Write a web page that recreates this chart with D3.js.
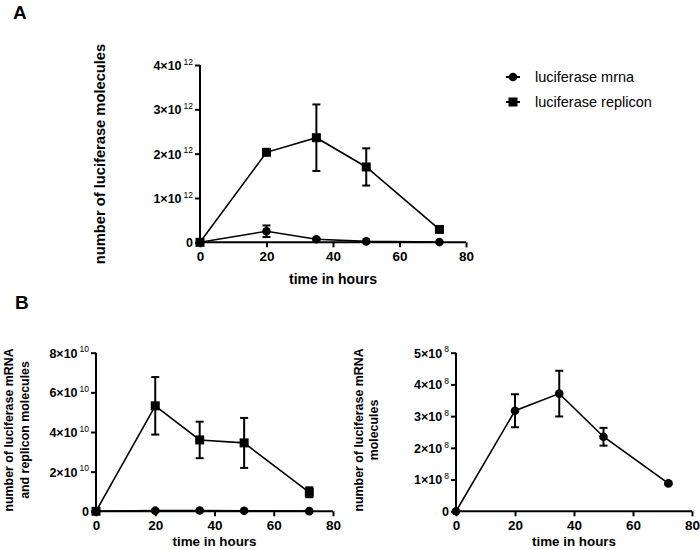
<!DOCTYPE html>
<html><head><meta charset="utf-8">
<script src="https://cdn.jsdelivr.net/npm/d3@7"></script>
<style>body{margin:0;background:#fff}svg{display:block;font-family:"Liberation Sans",Arial,sans-serif}</style>
</head><body><svg id="c" width="700" height="550"></svg>
<script>
// ---- data ----
const hours = [0, 20, 35, 50, 72];
const xTicks = [0, 20, 40, 60, 80];

const aMrna = [0, 0.25e12, 0.07e12, 0.02e12, 0.005e12];
const aMrnaErr = [0, 0.13e12, 0.01e12, 0, 0];
const aReplicon = [0, 2.03e12, 2.36e12, 1.70e12, 0.29e12];
const aRepliconErr = [0, 0.03e12, 0.75e12, 0.42e12, 0.02e12];
const aYTicks = [0, 1e12, 2e12, 3e12, 4e12];
const aYMantissa = ["0", "1", "2", "3", "4"];
const aYExp = "12";

const bReplicon = [0, 5.32e10, 3.6e10, 3.45e10, 0.96e10];
const bRepliconErr = [0, 1.45e10, 0.92e10, 1.26e10, 0.25e10];
const bMrna = [0, 3.17e8, 3.71e8, 2.35e8, 0.88e8];
const bMrnaErr = [0, 0.52e8, 0.72e8, 0.28e8, 0.03e8];
const bLeftYTicks = [0, 2e10, 4e10, 6e10, 8e10];
const bLeftMantissa = ["0", "2", "4", "6", "8"];
const bLeftExp = "10";
const bRightYTicks = [0, 1e8, 2e8, 3e8, 4e8, 5e8];
const bRightMantissa = ["0", "1", "2", "3", "4", "5"];
const bRightExp = "8";

const legendLabels = ["luciferase mrna", "luciferase replicon"];
const xTitle = "time in hours";

const svg = d3.select("#c");

function panel(opt) {
  const x = d3.scaleLinear().domain([0, 80]).range(opt.xr);
  const y = d3.scaleLinear().domain([0, opt.ymax]).range(opt.yr);
  const g = svg.append("g");
  // axes
  const xa = g.append("g").attr("transform", `translate(0,${opt.yr[0]})`)
    .call(d3.axisBottom(x).tickValues(xTicks).tickSize(5).tickPadding(4).tickFormat(d3.format("d")));
  xa.select(".domain").attr("stroke-width", 2).attr("d", `M${opt.xr[0]},0H${opt.xr[1]}`);
  xa.selectAll(".tick line").attr("stroke-width", 2);
  xa.selectAll("text").attr("font-size", 13.5).attr("font-weight", "bold").attr("fill", "#000");
  const ya = g.append("g").attr("transform", `translate(${opt.xr[0]},0)`)
    .call(d3.axisLeft(y).tickValues(opt.yTicks).tickSize(5).tickPadding(3).tickFormat(() => ""));
  ya.select(".domain").attr("stroke-width", 2).attr("d", `M0,${opt.yr[0]}V${opt.yr[1]}`);
  ya.selectAll(".tick line").attr("stroke-width", 2);
  ya.selectAll(".tick text").each(function (d, i) {
    const t = d3.select(this).attr("font-size", 12.5).attr("font-weight", "bold").attr("fill", "#000")
      .attr("x", -7).attr("dy", "0.35em");
    if (d === 0) { t.text("0"); return; }
    t.append("tspan").text(opt.mant[i] + "×10");
    t.append("tspan").attr("font-size", 8.5).attr("font-weight", "normal").attr("dy", "-0.6em").attr("dx", 2).text(opt.exp);
  });
  // x title
  g.append("text").attr("x", (opt.xr[0] + opt.xr[1]) / 2).attr("y", opt.xTitleY)
    .attr("text-anchor", "middle").attr("font-size", opt.xTitleSize).attr("font-weight", "bold").text(xTitle);
  // y title
  opt.yTitle.forEach((s, i) => {
    g.append("text").attr("transform", `translate(${opt.yTitleX[i]},${opt.yTitleCY}) rotate(-90)`)
      .attr("text-anchor", "middle").attr("font-size", opt.yTitleSize).attr("font-weight", "bold").text(s);
  });
  // series
  opt.series.forEach(s => {
    const pts = hours.map((h, i) => ({ h, v: s.v[i], e: s.e[i] }));
    g.append("path").datum(pts).attr("fill", "none").attr("stroke", "#000").attr("stroke-width", 1.6)
      .attr("d", d3.line().x(d => x(d.h)).y(d => y(d.v)));
    const eb = g.append("g").attr("stroke", "#000").attr("stroke-width", 2);
    pts.filter(d => d.e > 0).forEach(d => {
      const cx = x(d.h), y1 = y(d.v + d.e), y2 = y(Math.max(0, d.v - d.e));
      eb.append("line").attr("x1", cx).attr("x2", cx).attr("y1", y1).attr("y2", y2);
      eb.append("line").attr("x1", cx - 4).attr("x2", cx + 4).attr("y1", y1).attr("y2", y1);
      eb.append("line").attr("x1", cx - 4).attr("x2", cx + 4).attr("y1", y2).attr("y2", y2);
    });
    pts.forEach(d => marker(g, s.shape, x(d.h), y(d.v)));
  });
}

function marker(g, shape, cx, cy) {
  if (shape === "circle") g.append("circle").attr("cx", cx).attr("cy", cy).attr("r", 4.3).attr("fill", "#000");
  else g.append("rect").attr("x", cx - 4.5).attr("y", cy - 4.5).attr("width", 9).attr("height", 9).attr("fill", "#000");
}

// Panel A
panel({
  xr: [200, 466], yr: [242.3, 65], ymax: 4e12, yTicks: aYTicks, mant: aYMantissa, exp: aYExp,
  xTitleY: 284, xTitleSize: 14, yTitle: ["number of luciferase molecules"], yTitleSize: 14.7, yTitleX: [105], yTitleCY: 154,
  series: [{ v: aMrna, e: aMrnaErr, shape: "circle" }, { v: aReplicon, e: aRepliconErr, shape: "square" }]
});
// Panel B left
panel({
  xr: [96, 333], yr: [511.3, 352.7], ymax: 8e10, yTicks: bLeftYTicks, mant: bLeftMantissa, exp: bLeftExp,
  xTitleY: 546, xTitleSize: 13.4, yTitle: ["number of luciferase mRNA", "and replicon molecules"], yTitleSize: 12.4, yTitleX: [13, 29], yTitleCY: 430,
  series: [{ v: bMrna, e: bMrna.map(() => 0), shape: "circle" }, { v: bReplicon, e: bRepliconErr, shape: "square" }]
});
// Panel B right
panel({
  xr: [456, 692], yr: [511.3, 352.7], ymax: 5e8, yTicks: bRightYTicks, mant: bRightMantissa, exp: bRightExp,
  xTitleY: 546, xTitleSize: 13.4, yTitle: ["number of luciferase mRNA", "molecules"], yTitleSize: 12.4, yTitleX: [363, 378], yTitleCY: 430,
  series: [{ v: bMrna, e: bMrnaErr, shape: "circle" }]
});

// Legend
const shapes = ["circle", "square"];
legendLabels.forEach((lab, i) => {
  const ly = 77 + i * 25;
  svg.append("line").attr("x1", 506).attr("x2", 520).attr("y1", ly).attr("y2", ly).attr("stroke", "#000").attr("stroke-width", 2);
  marker(svg, shapes[i], 513, ly);
  svg.append("text").attr("x", 535).attr("y", ly + 5).attr("font-size", 14.5).text(lab);
});

// Panel letters
svg.append("text").attr("x", 13).attr("y", 19).attr("font-size", 19).attr("font-weight", "bold").text("A");
svg.append("text").attr("x", 15).attr("y", 309).attr("font-size", 19).attr("font-weight", "bold").text("B");
</script></body></html>
